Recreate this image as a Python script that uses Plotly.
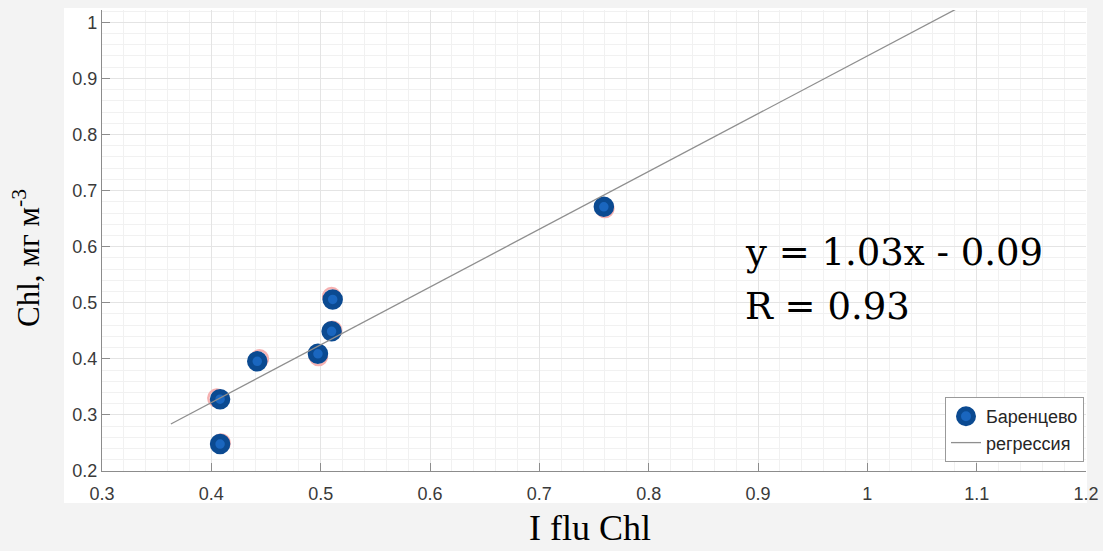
import plotly.graph_objects as go

# Data
x_blue = [0.408, 0.408, 0.442, 0.4975, 0.510, 0.511, 0.759]
y_blue = [0.248, 0.328, 0.3955, 0.409, 0.449, 0.506, 0.671]
x_pink = [0.409, 0.405, 0.444, 0.498, 0.511, 0.510, 0.760]
y_pink = [0.250, 0.330, 0.400, 0.404, 0.451, 0.511, 0.668]

slope = 1.03
intercept = -0.09
x_line = [0.363, 1.10]
y_line = [slope * v + intercept for v in x_line]

series_name = "Баренцево"
line_name = "регрессия"
eq_text = "y = 1.03x - 0.09"
r_text = "R = 0.93"
x_title = "I flu Chl"
y_title = "Chl, мг м<sup>-3</sup>"

W, H = 1103, 551
L, R_, T, B = 102, 17, 10, 80

fig = go.Figure()

fig.add_trace(go.Scatter(
    x=x_pink, y=y_pink, mode="markers", showlegend=False, hoverinfo="skip",
    marker=dict(size=17, color="rgba(0,0,0,0)", line=dict(color="#f6b1b1", width=2.5)),
))
fig.add_trace(go.Scatter(
    x=x_blue, y=y_blue, mode="markers", name=series_name,
    marker=dict(size=15, color="#1a66bf", line=dict(color="#0b4a91", width=5.5)),
))
fig.add_trace(go.Scatter(
    x=x_line, y=y_line, mode="lines", name=line_name,
    line=dict(color="#8f8f8f", width=1.3),
))

pw = W - L - R_
ph = H - T - B

fig.add_shape(type="rect", xref="paper", yref="paper",
              x0=(64 - L) / pw, x1=(1087 - L) / pw,
              y0=-(503 - (H - B)) / ph, y1=((H - B) - 8) / ph,
              fillcolor="white", line=dict(width=0), layer="below")

axis_common = dict(
    automargin=False,
    showline=True, linecolor="#8c8c8c", linewidth=1.2,
    ticks="inside", ticklen=8, tickcolor="#8c8c8c",
    showgrid=True, gridcolor="#e4e4e4", gridwidth=1,
    zeroline=False,
    tickfont=dict(family="Liberation Sans, Arial", size=18, color="#3a3a3a"),
    minor=dict(showgrid=True, gridcolor="#f1f1f1", gridwidth=1, ticks=""),
)

fig.update_xaxes(range=[0.3, 1.2], dtick=0.1, tick0=0.3, **axis_common,
                 ticklabelstandoff=6)
fig.update_xaxes(minor_dtick=0.02, tickformat="~g")
fig.update_yaxes(range=[0.2, 1.022], dtick=0.1, tick0=0.2, **axis_common)
fig.update_yaxes(minor_dtick=0.02, tickformat="~g")

serif = "Liberation Serif, Times New Roman"
# axis titles
fig.add_annotation(x=(589.5 - L) / pw, y=-(528 - (H - B)) / ph, xref="paper", yref="paper",
                   text=x_title, showarrow=False, xanchor="center", yanchor="middle",
                   font=dict(family=serif, size=36, color="black"))
fig.add_annotation(x=(26 - L) / pw, y=((H - B) - 258) / ph, xref="paper", yref="paper",
                   text=y_title, showarrow=False, textangle=-90, xanchor="center", yanchor="middle",
                   font=dict(family=serif, size=31, color="black"))

for txt, yv in [(eq_text, 0.589), (r_text, 0.493)]:
    fig.add_annotation(x=0.886, y=yv, xref="x", yref="y", text=txt, showarrow=False,
                       xanchor="left", yanchor="middle",
                       font=dict(family="DejaVu Serif", size=37, color="black"))

fig.update_layout(
    width=W, height=H,
    margin=dict(l=L, r=R_, t=T, b=B),
    paper_bgcolor="#f3f3f3", plot_bgcolor="white",
    legend=dict(x=(1084 - L) / pw, y=((H - B) - 462) / ph, xanchor="right", yanchor="bottom",
                bgcolor="white", bordercolor="#9a9a9a", borderwidth=1,
                font=dict(family="Liberation Sans, Arial", size=18, color="#262626"),
                tracegroupgap=0, itemwidth=30),
)

fig.write_html("out.html", config={"displayModeBar": False},
               post_script="document.body.style.margin='0';document.body.style.overflow='hidden';")
